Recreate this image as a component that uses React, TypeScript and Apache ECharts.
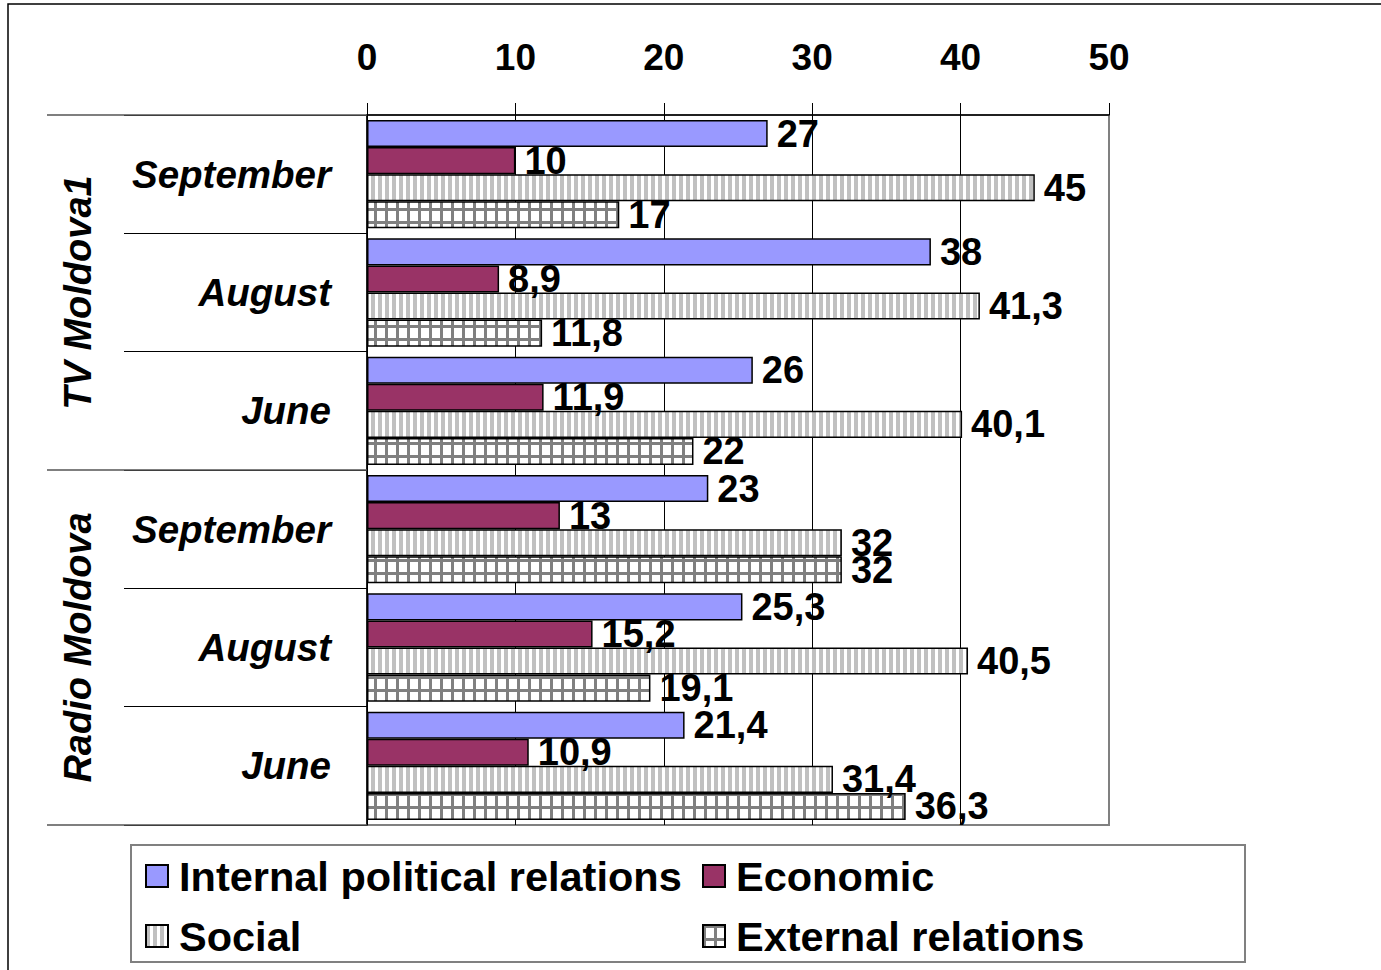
import React, { useEffect, useRef } from "react";
import * as echarts from "echarts";

const months = ["September", "August", "June", "September", "August", "June"];
const categoryKeys = ["TV-Sep", "TV-Aug", "TV-Jun", "R-Sep", "R-Aug", "R-Jun"];
const groups = ["TV Moldova1", "Radio Moldova"];
const xTicks = [0, 10, 20, 30, 40, 50];

const seriesNames = ["Internal political relations", "Economic", "Social", "External relations"];
const internalPolitical = [27, 38, 26, 23, 25.3, 21.4];
const economic = [10, 8.9, 11.9, 13, 15.2, 10.9];
const social = [45, 41.3, 40.1, 32, 40.5, 31.4];
const externalRel = [17, 11.8, 22, 32, 19.1, 36.3];

const FONT = "'Liberation Sans', Arial, Helvetica, sans-serif";

function makeStripe(): HTMLCanvasElement {
  const c = document.createElement("canvas");
  c.width = 7;
  c.height = 8;
  const ctx = c.getContext("2d")!;
  ctx.fillStyle = "#ffffff";
  ctx.fillRect(0, 0, 7, 8);
  ctx.fillStyle = "#c0c0c0";
  ctx.fillRect(0, 0, 4, 8);
  return c;
}

function makeGrid(): HTMLCanvasElement {
  const c = document.createElement("canvas");
  c.width = 11;
  c.height = 13;
  const ctx = c.getContext("2d")!;
  ctx.fillStyle = "#ffffff";
  ctx.fillRect(0, 0, 11, 13);
  ctx.fillStyle = "#808080";
  ctx.fillRect(0, 0, 3, 13);
  ctx.fillRect(0, 0, 11, 3);
  return c;
}

export default function App() {
  const ref = useRef<HTMLDivElement>(null);

  useEffect(() => {
    if (!ref.current) return;
    const chart = echarts.init(ref.current, undefined, { renderer: "svg" });

    const stripe = makeStripe();
    const grid = makeGrid();
    const stripePattern: any = { image: stripe, repeat: "repeat", imageWidth: 7, imageHeight: 8 };
    const gridPattern: any = { image: grid, repeat: "repeat", imageWidth: 11, imageHeight: 13 };

    const colors: any[] = ["#9999ff", "#993366", stripePattern, gridPattern];
    const datas = [internalPolitical, economic, social, externalRel];

    const labelStyle = {
      show: true,
      position: "right",
      distance: 9,
      fontSize: 38,
      fontWeight: "bold",
      color: "#000",
      fontFamily: FONT,
      formatter: (p: any) => String(p.value).replace(".", ","),
    };

    const series = seriesNames.map((name, i) => ({
      type: "bar",
      name,
      data: datas[i],
      barGap: "0%",
      barCategoryGap: "8.5%",
      itemStyle: { color: colors[i], borderColor: "#000", borderWidth: 1.5 },
      label: labelStyle,
      z: 3,
    }));

    const legendText = { fontSize: 41.5, fontWeight: "bold", color: "#000", fontFamily: FONT, lineHeight: 40 };
    const legendCommon = {
      orient: "vertical",
      top: 855,
      padding: 0,
      itemWidth: 22,
      itemHeight: 22,
      itemGap: 18,
      icon: "rect",
      formatter: (name: string) => `{t|${name}}`,
      textStyle: { ...legendText, rich: { t: { ...legendText, padding: [0, 0, 0, 6] } } },
    };

    const option: any = {
      animation: false,
      textStyle: { fontFamily: FONT },
      grid: {
        left: 367,
        right: 272,
        top: 115,
        bottom: 145,
        show: true,
        borderColor: "#808080",
        borderWidth: 2,
        backgroundColor: "transparent",
      },
      xAxis: {
        type: "value",
        position: "top",
        min: xTicks[0],
        max: xTicks[xTicks.length - 1],
        interval: 10,
        axisLine: { show: true, lineStyle: { color: "#000", width: 1.5 } },
        axisTick: { show: true, length: 12, lineStyle: { color: "#000", width: 1 } },
        axisLabel: { fontSize: 37, fontWeight: "bold", color: "#000", margin: 39, fontFamily: FONT },
        splitLine: { show: true, showMaxLine: false, lineStyle: { color: "#000", width: 1 } },
      },
      yAxis: [
        {
          type: "category",
          position: "left",
          inverse: true,
          data: categoryKeys,
          axisLine: { show: true, lineStyle: { color: "#000", width: 1.5 } },
          axisTick: { show: true, length: 243, lineStyle: { color: "#000", width: 1 } },
          axisLabel: {
            fontSize: 38.5,
            fontWeight: "bold",
            fontStyle: "italic",
            color: "#000",
            margin: 36,
            fontFamily: FONT,
            formatter: (_v: string, idx: number) => months[idx],
          },
        },
        {
          type: "category",
          position: "left",
          inverse: true,
          data: groups,
          axisLine: { show: false },
          axisTick: { show: true, length: 320, lineStyle: { color: "#555", width: 1.5 } },
          axisLabel: {
            rotate: 90,
            fontSize: 38,
            fontWeight: "bold",
            fontStyle: "italic",
            color: "#000",
            margin: 270,
            fontFamily: FONT,
          },
        },
      ],
      legend: [
        { ...legendCommon, left: 145, data: [seriesNames[0], seriesNames[2]] },
        { ...legendCommon, left: 702, data: [seriesNames[1], seriesNames[3]] },
      ],
      series,
      graphic: [
        {
          type: "rect",
          shape: { x: 8, y: 4, width: 1400, height: 1000 },
          style: { fill: "none", stroke: "#000", lineWidth: 1.5 },
          silent: true,
        },
        {
          type: "rect",
          shape: { x: 131, y: 845, width: 1114, height: 117 },
          style: { fill: "none", stroke: "#808080", lineWidth: 2 },
          silent: true,
        },
      ],
    };

    chart.setOption(option);
    return () => chart.dispose();
  }, []);

  return (
    <div
      ref={ref}
      style={{ position: "fixed", left: 0, top: 0, width: 1381, height: 970, background: "#fff" }}
    />
  );
}
